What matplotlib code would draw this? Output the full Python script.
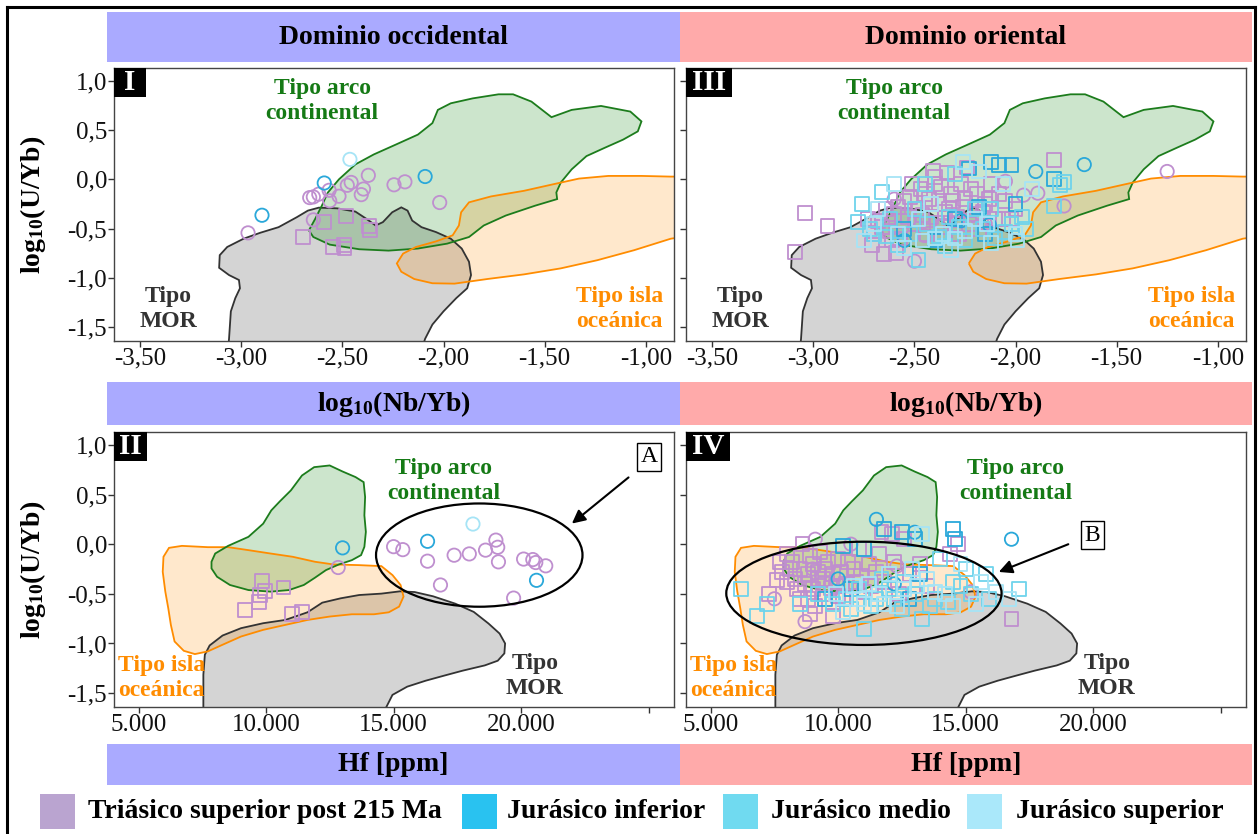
import matplotlib
matplotlib.use("Agg")
import matplotlib.pyplot as plt
from matplotlib.patches import Polygon, Ellipse, Rectangle
from matplotlib.lines import Line2D

plt.rcParams['font.family'] = ['Liberation Serif', 'DejaVu Serif']
plt.rcParams['mathtext.fontset'] = 'custom'
plt.rcParams['mathtext.rm'] = 'Liberation Serif'
plt.rcParams['mathtext.bf'] = 'Liberation Serif:bold'

# ---------------------------------------------------------------- fields
# log10(Nb/Yb) vs log10(U/Yb)
arco_nb_x = [-2.666, -2.635, -2.602, -2.572, -2.517, -2.436, -2.345, -2.236, -2.127, -2.055,
             -2.028, -1.964, -1.855, -1.728, -1.656, -1.565, -1.466, -1.366, -1.221, -1.076,
             -1.021, -1.039, -1.112, -1.203, -1.293, -1.366, -1.420, -1.442, -1.438, -1.547,
             -1.692, -1.801, -1.874, -1.982, -2.127, -2.272, -2.417, -2.563, -2.644]
arco_nb_y = [-0.518, -0.401, -0.267, -0.133, 0.001, 0.152, 0.253, 0.353, 0.454, 0.571,
             0.705, 0.772, 0.822, 0.863, 0.863, 0.789, 0.631, 0.705, 0.745, 0.688,
             0.588, 0.487, 0.403, 0.320, 0.236, 0.102, -0.032, -0.133, -0.200, -0.267,
             -0.367, -0.468, -0.585, -0.652, -0.702, -0.723, -0.709, -0.662, -0.585]

mor_nb_x = [-3.070, -3.061, -3.052, -3.030, -3.007, -3.012, -3.061, -3.110, -3.107, -3.070,
            -2.989, -2.907, -2.816, -2.726, -2.671, -2.617, -2.526, -2.436, -2.381, -2.336,
            -2.300, -2.254, -2.209, -2.178, -2.155, -2.109, -2.037, -1.964, -1.910, -1.874,
            -1.864, -1.883, -1.937, -2.000, -2.055, -2.091, -2.120]
mor_nb_y = [-1.800, -1.617, -1.339, -1.205, -1.105, -1.021, -0.971, -0.897, -0.769, -0.686,
            -0.602, -0.542, -0.485, -0.384, -0.317, -0.287, -0.294, -0.327, -0.401, -0.468,
            -0.434, -0.334, -0.284, -0.317, -0.418, -0.485, -0.535, -0.602, -0.702, -0.836,
            -0.971, -1.105, -1.205, -1.339, -1.473, -1.617, -1.800]

isla_nb_x = [-2.231, -2.200, -2.136, -2.037, -1.955, -1.924, -1.913, -1.874, -1.765, -1.602,
             -1.456, -1.330, -1.185, -1.021, -0.876, -0.700, -0.700, -0.876, -1.058, -1.239,
             -1.420, -1.602, -1.783, -1.946, -2.055, -2.145, -2.209]
isla_nb_y = [-0.853, -0.753, -0.686, -0.629, -0.568, -0.468, -0.334, -0.233, -0.173, -0.116,
             -0.049, 0.008, 0.035, 0.035, 0.028, 0.030, -0.550, -0.602, -0.719, -0.820,
             -0.903, -0.964, -1.011, -1.058, -1.054, -1.011, -0.937]

# Hf vs log10(U/Yb)
arco_hf_x = [7855, 8000, 8507, 9304, 9883, 10202, 10535, 10970, 11405, 11883, 12491, 12998,
             13506, 13824, 13882, 13853, 13911, 13853, 13723, 13361, 12853, 12346, 11912,
             11477, 10897, 10173, 9304, 8579, 8072, 7855]
arco_hf_y = [-0.177, -0.094, -0.017, 0.074, 0.207, 0.341, 0.431, 0.542, 0.692, 0.776, 0.793,
             0.732, 0.676, 0.625, 0.475, 0.291, 0.124, -0.027, -0.110, -0.161, -0.204, -0.261,
             -0.338, -0.411, -0.462, -0.478, -0.462, -0.411, -0.328, -0.244]

isla_hf_x = [5971, 6188, 6695, 7710, 8507, 9304, 10173, 11043, 11912, 12636, 13650, 14520,
             14955, 15273, 15389, 15215, 14810, 14230, 13361, 12491, 11622, 10753, 9883, 9014,
             8289, 7710, 7203, 6768, 6406, 6261, 6159, 6043, 5942]
isla_hf_y = [-0.127, -0.037, -0.017, -0.030, -0.030, -0.060, -0.094, -0.127, -0.177, -0.204,
             -0.211, -0.221, -0.311, -0.411, -0.528, -0.629, -0.686, -0.706, -0.706, -0.729,
             -0.763, -0.813, -0.863, -0.930, -1.013, -1.080, -1.107, -1.074, -0.980, -0.813,
             -0.645, -0.478, -0.278]

mor_hf_x = [7536, 7536, 7594, 7782, 8289, 9014, 9883, 10753, 11622, 12201, 12926, 13650,
            14520, 15244, 15824, 16549, 17418, 18143, 18722, 19157, 19374, 19345, 19084,
            18577, 17708, 16983, 16259, 15534, 14955, 14400]
mor_hf_y = [-1.800, -1.314, -1.114, -1.020, -0.920, -0.846, -0.796, -0.763, -0.686, -0.589,
            -0.545, -0.512, -0.498, -0.475, -0.482, -0.525, -0.599, -0.682, -0.799, -0.900,
            -1.000, -1.100, -1.174, -1.221, -1.274, -1.324, -1.375, -1.435, -1.518, -1.800]

# ---------------------------------------------------------------- Dominio occidental
occ_tri_c_nb = [-2.372, -2.191, -2.457, -2.245, -2.476, -2.396, -2.566, -2.617, -2.407, -2.517,
                -2.644, -2.662, -2.563, -2.019, -2.644, -2.967]
occ_tri_c_u = [0.041, -0.025, -0.031, -0.055, -0.060, -0.098, -0.111, -0.150, -0.155, -0.171,
               -0.178, -0.185, -0.218, -0.235, -0.411, -0.543]
occ_tri_c_hf = [19012, 14998, 19084, 15360, 18606, 17969, 17374, 20099, 20461, 16331,
                19113, 20577, 20968, 12825, 16838, 19707]
occ_tri_q_nb = [-2.481, -2.593, -2.367, -2.364, -2.693, -2.494, -2.548, -2.490]
occ_tri_q_u = [-0.369, -0.436, -0.476, -0.515, -0.585, -0.667, -0.686, -0.702]
occ_tri_q_hf = [9840, 10680, 9956, 9767, 9709, 9159, 11405, 11013]
occ_ji_c_nb = [-2.091, -2.590, -2.898]
occ_ji_c_u = [0.029, -0.037, -0.364]
occ_ji_c_hf = [16331, 12998, 20606]
occ_js_c_nb = [-2.463]
occ_js_c_u = [0.203]
occ_js_c_hf = [18113]

# ---------------------------------------------------------------- Dominio oriental, Nb/Yb
ori_nb_tri_q_x = [-3.04, -2.93, -3.09, -2.71, -2.65, -2.59, -2.41, -2.34, -2.24, -1.81, -2.02,
                  -2.68, -2.60, -2.55, -2.48, -2.45, -2.40, -2.38, -2.33, -2.30, -2.25, -2.22,
                  -2.20, -2.15, -2.12, -2.10, -2.05, -2.00, -2.62, -2.57, -2.50, -2.44, -2.36,
                  -2.28, -2.70, -2.66, -2.53, -2.42, -2.32, -2.18, -2.08, -2.47, -2.58, -2.27,
                  -2.64, -2.56, -2.52, -2.46, -2.43, -2.39, -2.35, -2.31, -2.29, -2.26, -2.23,
                  -2.19, -2.16, -2.13, -2.37, -2.51, -2.73, -2.61, -2.40, -2.06]
ori_nb_tri_q_y = [-0.34, -0.47, -0.74, -0.67, -0.76, -0.75, 0.09, 0.07, 0.12, 0.20, -0.40,
                  -0.42, -0.35, -0.22, -0.30, -0.15, -0.05, -0.25, -0.30, -0.45, -0.20, -0.10,
                  -0.35, -0.25, -0.05, -0.40, -0.22, -0.30, -0.52, -0.60, -0.45, -0.55, -0.48,
                  -0.55, -0.55, -0.48, -0.38, -0.38, -0.15, -0.50, -0.15, -0.10, -0.28, -0.05,
                  -0.30, -0.42, -0.18, -0.36, -0.20, -0.44, -0.33, -0.22, -0.38, -0.28, -0.45,
                  -0.15, -0.33, -0.20, -0.08, -0.05, -0.40, -0.62, 0.02, -0.40]
ori_nb_tri_c_x = [-1.25, -1.76, -1.89, -1.96, -2.50, -2.05, -2.45, -2.15, -2.60]
ori_nb_tri_c_y = [0.08, -0.27, -0.14, -0.16, -0.83, -0.02, -0.57, -0.45, -0.20]
ori_nb_ji_q_x = [-2.12, -2.02, -1.81, -2.23, -2.08, -2.18, -2.30, -2.00, -2.40, -2.55, -2.15]
ori_nb_ji_q_y = [0.18, 0.15, 0.00, 0.11, 0.15, -0.28, -0.40, -0.25, -0.62, -0.50, -0.55]
ori_nb_ji_c_x = [-1.66, -1.90, -2.13, -2.27, -2.55]
ori_nb_ji_c_y = [0.15, 0.08, -0.46, -0.42, -0.62]
ori_nb_jm_q_x = [-2.76, -2.66, -2.70, -2.78, -2.48, -1.78, -1.81, -1.76, -2.25, -2.05, -1.95,
                 -2.35, -2.58, -2.45, -2.20, -2.10, -2.62, -2.30, -2.72, -2.64, -2.52, -2.44,
                 -2.38, -2.28, -2.16, -2.02, -1.97, -2.33, -2.12, -2.50]
ori_nb_jm_q_y = [-0.25, -0.13, -0.55, -0.43, -0.82, -0.06, -0.27, -0.03, -0.62, -0.53, -0.50,
                 -0.68, -0.67, -0.05, -0.30, -0.60, -0.40, 0.05, -0.50, -0.58, -0.55, -0.45,
                 -0.58, -0.48, -0.50, -0.45, -0.38, -0.38, -0.30, -0.30]
ori_nb_js_q_x = [-2.26, -2.18, -2.06, -2.40, -2.75, -2.55, -2.32, -2.00, -1.92, -2.60, -2.42,
                 -2.20, -2.68, -2.12, -2.70, -2.58, -2.46, -2.36, -2.25, -2.14, -1.99, -2.48,
                 -2.30]
ori_nb_js_q_y = [0.18, 0.08, -0.05, -0.60, -0.62, -0.70, -0.72, -0.55, -0.10, -0.05, -0.25,
                 -0.40, -0.30, -0.65, -0.45, -0.55, -0.62, -0.55, -0.52, -0.45, -0.62, -0.40,
                 -0.60]

# ---------------------------------------------------------------- Dominio oriental, Hf
ori_hf_tri_q_x = [8200, 8500, 8800, 9000, 9200, 9500, 9800, 10000, 10300, 10600, 10900, 11200,
                  11500, 11800, 12200, 8400, 8800, 9100, 9400, 9700, 8000, 7800, 7600, 12600,
                  11700, 12100, 13200, 14400, 14700, 16800, 8600, 9300, 10200, 11000, 8900,
                  9800, 7300, 13500, 10800, 12400, 8300, 8700, 9000, 9400, 9600, 9900, 10100,
                  10400, 8100, 8900, 9200, 10700, 11300, 7700, 8500, 9500, 10000, 11600, 12800,
                  8000]
ori_hf_tri_q_y = [-0.18, -0.25, -0.30, -0.20, -0.35, -0.25, -0.30, -0.15, -0.40, -0.25, -0.32,
                  -0.20, -0.28, -0.38, -0.18, -0.45, -0.55, -0.62, -0.50, -0.44, -0.38, -0.28,
                  -0.36, 0.05, 0.12, 0.10, -0.20, -0.10, 0.00, -0.75, 0.00, -0.08, -0.55,
                  -0.48, -0.70, -0.72, -0.50, -0.42, -0.05, -0.50, -0.35, -0.40, -0.45, -0.35,
                  -0.18, -0.42, -0.28, -0.18, -0.25, -0.12, -0.28, -0.38, -0.42, -0.18, -0.55,
                  -0.40, -0.52, -0.10, -0.30, -0.10]
ori_hf_tri_c_x = [9100, 8700, 7500, 15200, 12300, 10500, 9000]
ori_hf_tri_c_y = [0.05, -0.78, -0.55, -0.48, -0.22, 0.00, -0.25]
ori_hf_ji_q_x = [14500, 11800, 13000, 12500, 10200, 11000, 13200, 9500, 10500, 12800, 14600]
ori_hf_ji_q_y = [0.15, 0.15, 0.05, 0.12, -0.02, -0.05, -0.30, -0.55, -0.45, -0.55, 0.05]
ori_hf_ji_c_x = [11500, 13000, 16800, 12200, 10000]
ori_hf_ji_c_y = [0.25, 0.12, 0.05, -0.40, -0.35]
ori_hf_jm_q_x = [6200, 6800, 7200, 11000, 13300, 15800, 15900, 17100, 12000, 13800, 14500,
                 11500, 10500, 9800, 12500, 14000, 15000, 8500, 10800, 11300, 12200, 13000,
                 13600, 14300, 15200, 11700, 12600, 10300, 9200, 14800]
ori_hf_jm_q_y = [-0.45, -0.72, -0.60, -0.85, -0.75, -0.30, -0.55, -0.45, -0.45, -0.55, -0.38,
                 -0.55, -0.65, -0.60, -0.65, -0.15, -0.25, -0.60, -0.45, -0.62, -0.55, -0.50,
                 -0.62, -0.58, -0.50, -0.35, -0.38, -0.55, -0.50, -0.42]
ori_hf_js_q_x = [11200, 11800, 12600, 13500, 14200, 16700, 10800, 12900, 13300, 15400, 9900,
                 14800, 16200, 10200, 11000, 11600, 12300, 13100, 13800, 14500, 12000, 10600,
                 15600]
ori_hf_js_q_y = [-0.40, -0.60, -0.45, -0.35, -0.50, -0.55, -0.55, -0.25, 0.10, -0.60, -0.50,
                 -0.20, -0.48, -0.68, -0.60, -0.50, -0.62, -0.42, -0.48, -0.62, -0.30, -0.42,
                 -0.38]

# ---------------------------------------------------------------- labels / styles
periodos = ['Triásico superior post 215 Ma', 'Jurásico inferior', 'Jurásico medio',
            'Jurásico superior']
col_key = ['#BAA4D0', '#29C2F0', '#70DAF0', '#AAE8FA']
col_pt = ['#BF8FCF', '#2AA8DA', '#6ED3EC', '#A6E4F6']

yticks = [1.0, 0.5, 0.0, -0.5, -1.0, -1.5]
nb_ticks = [-3.5, -3.0, -2.5, -2.0, -1.5, -1.0]
hf_ticks = [5000, 10000, 15000, 20000, 25000]
hf_ticklabels = ['5.000', '10.000', '15.000', '20.000', '']

C_ARCO, C_ARCO_TXT = '#1C7C1C', '#157A15'
C_ISLA = '#FF8C00'
C_MOR = '#333333'

W, H = 1259, 834
fig = plt.figure(figsize=(W / 100, H / 100), dpi=100)


def rect(x0, y0, x1, y1):
    return [x0 / W, 1 - y1 / H, (x1 - x0) / W, (y1 - y0) / H]


def strip(x0, y0, x1, y1, color, text):
    a = fig.add_axes(rect(x0, y0, x1, y1))
    a.set_facecolor(color)
    a.set_xticks([]); a.set_yticks([])
    for s in a.spines.values():
        s.set_visible(False)
    a.text(0.5, 0.5, text, ha='center', va='center', fontsize=20, fontweight='bold',
           transform=a.transAxes, color='black')


def fmt_dec(v, d):
    return f'{v:.{d}f}'.replace('.', ',')


def setup(ax, kind, show_y):
    if kind == 'nb':
        ax.set_xlim(-3.63, -0.86)
        ax.set_xticks(nb_ticks)
        ax.set_xticklabels([fmt_dec(v, 2) for v in nb_ticks])
    else:
        ax.set_xlim(4030, 26000)
        ax.set_xticks(hf_ticks)
        ax.set_xticklabels(hf_ticklabels)
    ax.set_ylim(-1.64, 1.13)
    ax.set_yticks(yticks)
    ax.set_yticklabels([fmt_dec(v, 1) for v in yticks] if show_y else [])
    ax.tick_params(direction='out', length=4, width=1, color='#333333',
                   labelsize=18, labelcolor='#111111', pad=1)
    for s in ax.spines.values():
        s.set_color('#444444'); s.set_linewidth(1.0)


def fields(ax, kind):
    if kind == 'nb':
        polys = [(mor_nb_x, mor_nb_y, 'black', C_MOR, 0.17),
                 (arco_nb_x, arco_nb_y, 'green', C_ARCO, 0.2),
                 (isla_nb_x, isla_nb_y, C_ISLA, C_ISLA, 0.2)]
    else:
        polys = [(mor_hf_x, mor_hf_y, 'black', C_MOR, 0.17),
                 (isla_hf_x, isla_hf_y, C_ISLA, C_ISLA, 0.2),
                 (arco_hf_x, arco_hf_y, 'green', C_ARCO, 0.2)]
    for xs, ys, fc, ec, al in polys:
        ax.add_patch(Polygon(list(zip(xs, ys)), closed=True, facecolor=fc, alpha=al,
                             edgecolor='none', zorder=1))
        ax.add_patch(Polygon(list(zip(xs, ys)), closed=True, facecolor='none',
                             edgecolor=ec, lw=1.3, zorder=2))


def field_labels(ax, kind):
    kw = dict(fontsize=17, fontweight='bold', ha='center', va='center', linespacing=1.25)
    if kind == 'nb':
        ax.text(-2.60, 0.80, 'Tipo arco\ncontinental', color=C_ARCO_TXT, **kw)
        ax.text(-3.36, -1.32, 'Tipo\nMOR', color=C_MOR, **kw)
        ax.text(-1.13, -1.32, 'Tipo isla\noceánica', color=C_ISLA, **kw)
    else:
        ax.text(16950, 0.64, 'Tipo arco\ncontinental', color=C_ARCO_TXT, **kw)
        ax.text(20540, -1.33, 'Tipo\nMOR', color=C_MOR, **kw)
        ax.text(5880, -1.35, 'Tipo isla\noceánica', color=C_ISLA, **kw)


def tag(ax, txt, wpx):
    bb = ax.get_position()
    w = wpx / (bb.width * W)
    h = 29 / (bb.height * H)
    ax.add_patch(Rectangle((0, 1 - h), w, h, transform=ax.transAxes, facecolor='black',
                           edgecolor='none', zorder=10, clip_on=False))
    ax.text(w / 2, 1 - h / 2, txt, transform=ax.transAxes, ha='center', va='center',
            color='white', fontsize=21, fontweight='bold', zorder=11)


def pts(ax, x, y, ci, marker):
    ax.scatter(x, y, s=92 if marker == 'o' else 100, marker=marker, facecolors='none',
               edgecolors=col_pt[ci], linewidths=1.3, zorder=5)


# frame around the whole figure
for xs, ys in [([6.5, 6.5], [6.5, 840]), ([6.5, 1254.5], [6.5, 6.5]),
               ([1254.5, 1254.5], [6.5, 840])]:
    fig.add_artist(Line2D([v / W for v in xs], [1 - v / H for v in ys], color='black',
                          lw=2.2, transform=fig.transFigure))

# strips
BLUE, PINK = '#AAAAFF', '#FFAAAA'
strip(107, 12, 680, 62, BLUE, 'Dominio occidental')
strip(680, 12, 1252, 62, PINK, 'Dominio oriental')
strip(107, 382, 680, 425, BLUE, r'$\mathbf{log_{10}(Nb/Yb)}$')
strip(680, 382, 1252, 425, PINK, r'$\mathbf{log_{10}(Nb/Yb)}$')
strip(107, 744, 680, 785, BLUE, 'Hf [ppm]')
strip(680, 744, 1252, 785, PINK, 'Hf [ppm]')

ax1 = fig.add_axes(rect(114, 68, 674, 341))
ax3 = fig.add_axes(rect(686, 68, 1246, 341))
ax2 = fig.add_axes(rect(114, 432, 674, 707))
ax4 = fig.add_axes(rect(686, 432, 1246, 707))

for ax, kind, sy, t, tw in [(ax1, 'nb', True, 'I', 32), (ax3, 'nb', False, 'III', 46),
                            (ax2, 'hf', True, 'II', 33), (ax4, 'hf', False, 'IV', 44)]:
    setup(ax, kind, sy)
    fields(ax, kind)
    field_labels(ax, kind)
    tag(ax, t, tw)

# Dominio occidental
pts(ax1, occ_tri_c_nb, occ_tri_c_u, 0, 'o')
pts(ax1, occ_tri_q_nb, occ_tri_q_u, 0, 's')
pts(ax1, occ_ji_c_nb, occ_ji_c_u, 1, 'o')
pts(ax1, occ_js_c_nb, occ_js_c_u, 3, 'o')
pts(ax2, occ_tri_c_hf, occ_tri_c_u, 0, 'o')
pts(ax2, occ_tri_q_hf, occ_tri_q_u, 0, 's')
pts(ax2, occ_ji_c_hf, occ_ji_c_u, 1, 'o')
pts(ax2, occ_js_c_hf, occ_js_c_u, 3, 'o')

# Dominio oriental
pts(ax3, ori_nb_tri_q_x, ori_nb_tri_q_y, 0, 's')
pts(ax3, ori_nb_tri_c_x, ori_nb_tri_c_y, 0, 'o')
pts(ax3, ori_nb_ji_q_x, ori_nb_ji_q_y, 1, 's')
pts(ax3, ori_nb_ji_c_x, ori_nb_ji_c_y, 1, 'o')
pts(ax3, ori_nb_jm_q_x, ori_nb_jm_q_y, 2, 's')
pts(ax3, ori_nb_js_q_x, ori_nb_js_q_y, 3, 's')
pts(ax4, ori_hf_tri_q_x, ori_hf_tri_q_y, 0, 's')
pts(ax4, ori_hf_tri_c_x, ori_hf_tri_c_y, 0, 'o')
pts(ax4, ori_hf_ji_q_x, ori_hf_ji_q_y, 1, 's')
pts(ax4, ori_hf_ji_c_x, ori_hf_ji_c_y, 1, 'o')
pts(ax4, ori_hf_jm_q_x, ori_hf_jm_q_y, 2, 's')
pts(ax4, ori_hf_js_q_x, ori_hf_js_q_y, 3, 's')

# highlighted groups
ax2.add_patch(Ellipse((18360, -0.11), 8100, 1.04, fill=False, ec='black', lw=1.6, zorder=8))
ax2.annotate('', xy=(21910, 0.19), xytext=(24300, 0.69),
             arrowprops=dict(arrowstyle='-|>', color='black', lw=1.5, mutation_scale=20),
             zorder=8)
ax2.text(25030, 0.88, 'A', fontsize=17, ha='center', va='center', zorder=9,
         bbox=dict(boxstyle='square,pad=0.15', fc='white', ec='black', lw=1))

ax4.add_patch(Ellipse((11010, -0.495), 10800, 1.04, fill=False, ec='black', lw=1.6, zorder=8))
ax4.annotate('', xy=(16200, -0.29), xytext=(19130, 0.01),
             arrowprops=dict(arrowstyle='-|>', color='black', lw=1.5, mutation_scale=20),
             zorder=8)
ax4.text(19980, 0.09, 'B', fontsize=17, ha='center', va='center', zorder=9,
         bbox=dict(boxstyle='square,pad=0.15', fc='white', ec='black', lw=1))

# y-axis titles
for y0, y1 in [(68, 341), (432, 707)]:
    fig.text(33 / W, 1 - (y0 + y1) / 2 / H, r'$\mathbf{log_{10}(U/Yb)}$', rotation=90,
             ha='center', va='center', fontsize=20)

# legend
key_x = [40, 462, 723, 967]
txt_x = [88, 507, 771, 1016]
for kx, tx, c, lab in zip(key_x, txt_x, col_key, periodos):
    fig.add_artist(Rectangle((kx / W, 1 - 829 / H), 35 / W, 35 / H, transform=fig.transFigure,
                             facecolor=c, edgecolor='none'))
    fig.text(tx / W, 1 - 811 / H, lab, ha='left', va='center', fontsize=20, fontweight='bold')

fig.savefig('out.png', dpi=100)
